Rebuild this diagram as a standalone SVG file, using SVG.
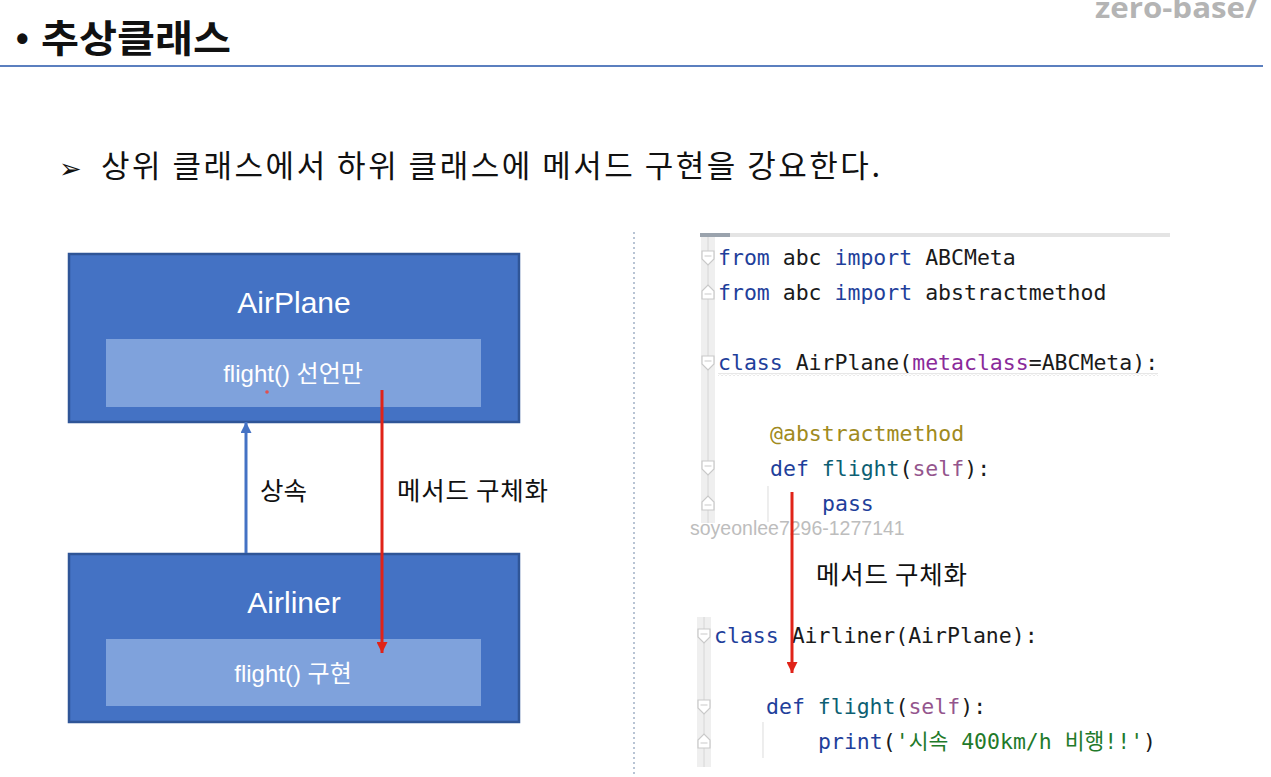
<svg xmlns="http://www.w3.org/2000/svg" width="1271" height="777" viewBox="0 0 1271 777">
  <defs>
    <style>
      .sans { font-family: "Liberation Sans", "Noto Sans CJK KR", sans-serif; }
      .kr { font-family: "Noto Sans CJK KR", "Liberation Sans", sans-serif; }
      .code { font-family: "DejaVu Sans Mono", "Liberation Mono", "Noto Sans CJK KR", monospace; font-size: 21.5px; fill: #1a1a1a; white-space: pre; }
      .kw { fill: #1f3f9b; }
      .pm { fill: #8a2a9a; }
      .sf { fill: #94558d; }
      .fn { fill: #0d5f73; }
      .dec { fill: #a08a20; }
      .str { fill: #1f7a2a; }
      .outer { fill: #4472c4; stroke: #2f5597; stroke-width: 2.5; }
      .inner { fill: #7fa2dc; }
      .title { fill: #ffffff; font-size: 30px; }
      .meth { fill: #ffffff; font-size: 24px; }
      .fold { fill: #ffffff; stroke: #c9c9c9; stroke-width: 1.2; }
      .gut { fill: #efefef; }
      .lbl { fill: #111; font-size: 25.5px; }
    </style>
    <marker id="redHead" viewBox="0 0 10 10" refX="10" refY="5" markerWidth="11" markerHeight="11" markerUnits="userSpaceOnUse" orient="auto">
      <path d="M0,0 L10,5 L0,10 z" fill="#e02318"/>
    </marker>
    <marker id="blueHead" viewBox="0 0 10 10" refX="10" refY="5" markerWidth="11" markerHeight="11" markerUnits="userSpaceOnUse" orient="auto">
      <path d="M0,0 L10,5 L0,10 z" fill="#4472c4"/>
    </marker>
    <pattern id="wave" width="4" height="3" patternUnits="userSpaceOnUse">
      <path d="M0,2.5 L2,0.5 L4,2.5" fill="none" stroke="#c4c4c4" stroke-width="0.8"/>
    </pattern>
  </defs>

  <rect width="1271" height="777" fill="#ffffff"/>

  <!-- header -->
  <g id="header">
    <text x="1095" y="18" font-family="Open Sans, Liberation Sans, sans-serif" font-weight="bold" font-size="28" fill="#b4b4b4" textLength="163" lengthAdjust="spacingAndGlyphs">zero-base/</text>
    <text x="16" y="51" class="sans" font-size="36" font-weight="bold" fill="#111">•</text>
    <text x="41" y="52" class="kr" font-size="38" font-weight="bold" fill="#111" textLength="190" lengthAdjust="spacingAndGlyphs">추상클래스</text>
    <line x1="0" y1="66" x2="1263" y2="66" stroke="#5b7fbf" stroke-width="2"/>
    <text x="59" y="178" font-family="DejaVu Sans, sans-serif" font-size="27" fill="#111">➢</text>
    <text x="101" y="177" class="kr" font-size="31" fill="#111" textLength="779" lengthAdjust="spacing">상위 클래스에서 하위 클래스에 메서드 구현을 강요한다.</text>
  </g>

  <!-- divider -->
  <line x1="634" y1="232" x2="634" y2="777" stroke="#b8c4d4" stroke-width="2" stroke-dasharray="2,3"/>

  <!-- left diagram nodes -->
  <g id="node-airplane">
    <rect class="outer" x="69" y="254" width="450" height="168"/>
    <rect class="inner" x="106" y="339" width="375" height="68"/>
    <text class="sans title" x="294" y="313" text-anchor="middle">AirPlane</text>
    <text class="sans meth" x="293" y="382" text-anchor="middle">flight() 선언만</text>
    <circle cx="267" cy="392" r="1.8" fill="#e05050"/>
  </g>
  <g id="node-airliner">
    <rect class="outer" x="69" y="554" width="450" height="168"/>
    <rect class="inner" x="106" y="639" width="375" height="67"/>
    <text class="sans title" x="294" y="613" text-anchor="middle">Airliner</text>
    <text class="sans meth" x="293" y="682" text-anchor="middle">flight() 구현</text>
  </g>

  <!-- code panel -->
  <g id="code-panel">
    <rect x="700" y="233" width="470" height="4" fill="#e4e4e4"/>
    <rect x="700" y="233" width="30" height="4" fill="#9aa3ad"/>
    <rect class="gut" x="701" y="237" width="14" height="286"/>
    <line x1="708" y1="237" x2="708" y2="523" stroke="#d6d6d6" stroke-width="1"/>
    <rect class="gut" x="697" y="617" width="14" height="150"/>
    <line x1="704" y1="617" x2="704" y2="767" stroke="#d6d6d6" stroke-width="1"/>

    <!-- fold markers -->
    <path class="fold" d="M702,251 h12 v8 l-6,6 l-6,-6 z"/>
    <line x1="704.5" y1="256" x2="711.5" y2="256" stroke="#c9c9c9"/>
    <path class="fold" d="M702,299 h12 v-8 l-6,-6 l-6,6 z"/>
    <line x1="704.5" y1="294" x2="711.5" y2="294" stroke="#c9c9c9"/>
    <path class="fold" d="M702,356 h12 v8 l-6,6 l-6,-6 z"/>
    <line x1="704.5" y1="361" x2="711.5" y2="361" stroke="#c9c9c9"/>
    <path class="fold" d="M702,461 h12 v8 l-6,6 l-6,-6 z"/>
    <line x1="704.5" y1="466" x2="711.5" y2="466" stroke="#c9c9c9"/>
    <path class="fold" d="M702,510 h12 v-8 l-6,-6 l-6,6 z"/>
    <line x1="704.5" y1="505" x2="711.5" y2="505" stroke="#c9c9c9"/>
    <path class="fold" d="M698,629 h12 v8 l-6,6 l-6,-6 z"/>
    <line x1="700.5" y1="634" x2="707.5" y2="634" stroke="#c9c9c9"/>
    <path class="fold" d="M698,700 h12 v8 l-6,6 l-6,-6 z"/>
    <line x1="700.5" y1="705" x2="707.5" y2="705" stroke="#c9c9c9"/>
    <path class="fold" d="M698,748 h12 v-8 l-6,-6 l-6,6 z"/>
    <line x1="700.5" y1="743" x2="707.5" y2="743" stroke="#c9c9c9"/>

    <!-- indent guides -->
    <line x1="768" y1="486" x2="768" y2="522" stroke="#e2e2e2" stroke-width="1.2"/>
    <line x1="763" y1="722" x2="763" y2="758" stroke="#e2e2e2" stroke-width="1.2"/>

    <!-- wavy underline -->
    <rect x="718" y="373" width="440" height="3" fill="url(#wave)"/>

    <text class="code" x="718" y="265"><tspan class="kw">from</tspan> abc <tspan class="kw">import</tspan> ABCMeta</text>
    <text class="code" x="718" y="300"><tspan class="kw">from</tspan> abc <tspan class="kw">import</tspan> abstractmethod</text>
    <text class="code" x="718" y="370"><tspan class="kw">class</tspan> AirPlane(<tspan class="pm">metaclass</tspan>=ABCMeta):</text>
    <text class="code" x="770" y="441"><tspan class="dec">@abstractmethod</tspan></text>
    <text class="code" x="770" y="476"><tspan class="kw">def</tspan> <tspan class="fn">flight</tspan>(<tspan class="sf">self</tspan>):</text>
    <text class="code" x="822" y="511"><tspan class="kw">pass</tspan></text>
    <text class="code" x="714" y="643"><tspan class="kw">class</tspan> Airliner(AirPlane):</text>
    <text class="code" x="766" y="714"><tspan class="kw">def</tspan> <tspan class="fn">flight</tspan>(<tspan class="sf">self</tspan>):</text>
    <text class="code" x="818" y="749"><tspan class="kw">print</tspan>(<tspan class="str">'시속 400km/h 비행!!'</tspan>)</text>

    <text x="690" y="535" class="sans" font-size="19.5" fill="#bdbdbd">soyeonlee7296-1277141</text>
  </g>

  <!-- connectors -->
  <g id="connectors">
    <line x1="246" y1="553" x2="246" y2="422" stroke="#4472c4" stroke-width="3" marker-end="url(#blueHead)"/>
    <line x1="382" y1="390" x2="382" y2="653" stroke="#e02318" stroke-width="3" marker-end="url(#redHead)"/>
    <line x1="792" y1="492" x2="792" y2="673" stroke="#e02318" stroke-width="3" marker-end="url(#redHead)"/>
    <text x="260" y="500" class="kr lbl" font-size="23">상속</text>
    <text x="397" y="500" class="kr lbl" textLength="151" lengthAdjust="spacing">메서드 구체화</text>
    <text x="816" y="584" class="kr lbl" textLength="151" lengthAdjust="spacing">메서드 구체화</text>
  </g>
</svg>
